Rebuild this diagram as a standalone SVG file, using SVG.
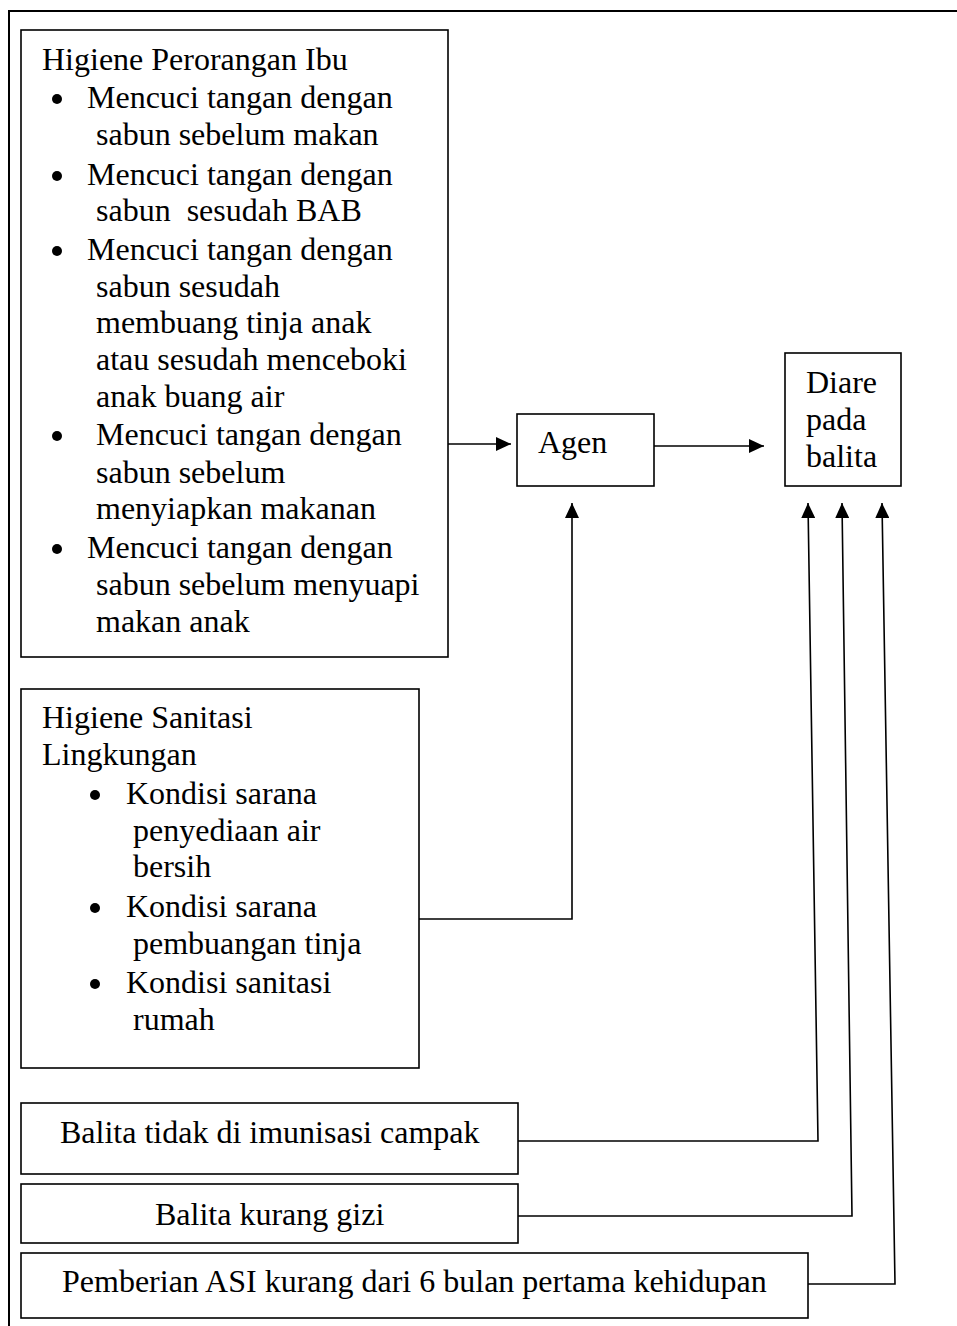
<svg xmlns="http://www.w3.org/2000/svg" width="957" height="1326" viewBox="0 0 957 1326">
  <defs>
    <style>
      .box { fill: #ffffff; stroke: #000000; stroke-width: 1.6; }
      .frame { fill: none; stroke: #000000; stroke-width: 2; }
      .conn { fill: none; stroke: #000000; stroke-width: 1.6; }
      text { font-family: "Liberation Serif", "Times New Roman", serif; font-size: 32px; fill: #000000; }
      .dot { fill: #000000; }
    </style>
    <marker id="arrow" markerUnits="userSpaceOnUse" markerWidth="15" markerHeight="14" refX="15" refY="7" orient="auto">
      <path d="M0,0 L15,7 L0,14 z" fill="#000000"/>
    </marker>
  </defs>
  <rect x="0" y="0" width="957" height="1326" fill="#ffffff"/>
  <rect id="frame" class="frame" x="9" y="11" width="960" height="1330"/>

  <g id="node-higiene-perorangan">
    <rect class="box" x="21" y="30" width="427" height="627"/>
    <text x="42" y="70">Higiene Perorangan Ibu</text>
    <circle class="dot" cx="57" cy="99" r="5"/>
    <text x="87" y="108">Mencuci tangan dengan</text>
    <text x="96" y="145">sabun sebelum makan</text>
    <circle class="dot" cx="57" cy="176" r="5"/>
    <text x="87" y="185">Mencuci tangan dengan</text>
    <text x="96" y="221" xml:space="preserve">sabun  sesudah BAB</text>
    <circle class="dot" cx="57" cy="251" r="5"/>
    <text x="87" y="260">Mencuci tangan dengan</text>
    <text x="96" y="297">sabun sesudah</text>
    <text x="96" y="333">membuang tinja anak</text>
    <text x="96" y="370">atau sesudah menceboki</text>
    <text x="96" y="407">anak buang air</text>
    <circle class="dot" cx="57" cy="436" r="5"/>
    <text x="96" y="445">Mencuci tangan dengan</text>
    <text x="96" y="483">sabun sebelum</text>
    <text x="96" y="519">menyiapkan makanan</text>
    <circle class="dot" cx="57" cy="549" r="5"/>
    <text x="87" y="558">Mencuci tangan dengan</text>
    <text x="96" y="595">sabun sebelum menyuapi</text>
    <text x="96" y="632">makan anak</text>
  </g>

  <g id="node-higiene-sanitasi">
    <rect class="box" x="21" y="689" width="398" height="379"/>
    <text x="42" y="728">Higiene Sanitasi</text>
    <text x="42" y="765">Lingkungan</text>
    <circle class="dot" cx="95" cy="795" r="5"/>
    <text x="126" y="804">Kondisi sarana</text>
    <text x="133" y="841">penyediaan air</text>
    <text x="133" y="877">bersih</text>
    <circle class="dot" cx="95" cy="908" r="5"/>
    <text x="126" y="917">Kondisi sarana</text>
    <text x="133" y="954">pembuangan tinja</text>
    <circle class="dot" cx="95" cy="984" r="5"/>
    <text x="126" y="993">Kondisi sanitasi</text>
    <text x="133" y="1030">rumah</text>
  </g>

  <g id="node-agen">
    <rect class="box" x="517" y="414" width="137" height="72"/>
    <text x="538" y="453">Agen</text>
  </g>

  <g id="node-diare">
    <rect class="box" x="785" y="353" width="116" height="133"/>
    <text x="806" y="393">Diare</text>
    <text x="806" y="430">pada</text>
    <text x="806" y="467">balita</text>
  </g>

  <g id="node-imunisasi">
    <rect class="box" x="21" y="1103" width="497" height="71"/>
    <text x="60" y="1143">Balita tidak di imunisasi campak</text>
  </g>

  <g id="node-gizi">
    <rect class="box" x="21" y="1184" width="497" height="59"/>
    <text x="155" y="1225">Balita kurang gizi</text>
  </g>

  <g id="node-asi">
    <rect class="box" x="21" y="1253" width="787" height="65"/>
    <text x="62" y="1292">Pemberian ASI kurang dari 6 bulan pertama kehidupan</text>
  </g>

  <g id="connectors">
    <path class="conn" d="M448,444 L511,444" marker-end="url(#arrow)"/>
    <path class="conn" d="M654,446 L764,446" marker-end="url(#arrow)"/>
    <path class="conn" d="M419,919 L572,919 L572,503" marker-end="url(#arrow)"/>
    <path class="conn" d="M518,1141 L818,1141 L808,503" marker-end="url(#arrow)"/>
    <path class="conn" d="M518,1216 L852,1216 L842,503" marker-end="url(#arrow)"/>
    <path class="conn" d="M808,1284 L895,1284 L882,503" marker-end="url(#arrow)"/>
  </g>
</svg>
